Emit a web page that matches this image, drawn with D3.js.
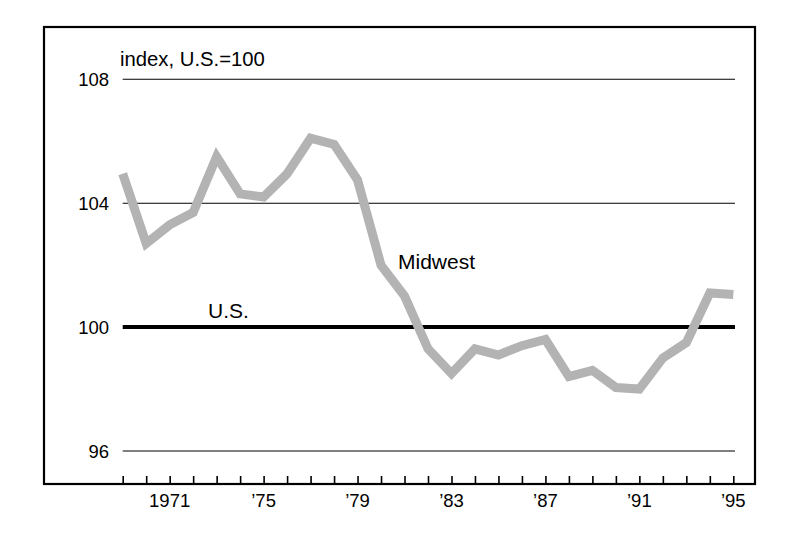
<!DOCTYPE html>
<html>
<head>
<meta charset="utf-8">
<script src="https://cdn.jsdelivr.net/npm/d3@7"></script>
<style>
	body { margin: 0; background: #fff; }
	text { font-family: "Liberation Sans", Arial, sans-serif; fill: #000; }
</style>
</head>
<body>
<div id="chart-area"></div>
<script>
// data
const years = [1969, 1970, 1971, 1972, 1973, 1974, 1975, 1976, 1977, 1978, 1979, 1980, 1981,
	1982, 1983, 1984, 1985, 1986, 1987, 1988, 1989, 1990, 1991, 1992, 1993, 1994, 1995]
const midwest = [104.95, 102.7, 103.3, 103.7, 105.5, 104.3, 104.2, 104.95, 106.1, 105.9, 104.75, 102.0, 101.0,
	99.3, 98.5, 99.3, 99.1, 99.4, 99.6, 98.4, 98.6, 98.05, 98.0, 99.0, 99.5, 101.1, 101.05]
const usLevel = 100
const yTicks = [96, 100, 104, 108]
const xLabels = [[1971, '1971'], [1975, '\u201975'], [1979, '\u201979'], [1983, '\u201983'],
	[1987, '\u201987'], [1991, '\u201991'], [1995, '\u201995']]

const W = 800
const H = 536

const frame = { left: 44, top: 27, right: 755, bottom: 484 }
const plot = { left: 122.7, right: 733.3 }

let svg = d3.select('#chart-area')
	.append('svg')
	.attr('width', W)
	.attr('height', H)

// scales
let xScale = d3.scaleLinear()
	.domain([1969, 1995])
	.range([plot.left, plot.right])

let yScale = d3.scaleLinear()
	.domain([96, 108])
	.range([451, 79.3])

// frame
svg.append('rect')
	.attr('x', frame.left)
	.attr('y', frame.top)
	.attr('width', frame.right - frame.left)
	.attr('height', frame.bottom - frame.top)
	.attr('fill', 'none')
	.attr('stroke', '#000')
	.attr('stroke-width', 2.2)

// horizontal gridlines
svg.append('g')
	.selectAll('line')
	.data(yTicks.filter(d => d !== usLevel))
	.enter()
	.append('line')
	.attr('x1', plot.left)
	.attr('x2', 735)
	.attr('y1', d => yScale(d))
	.attr('y2', d => yScale(d))
	.attr('stroke', '#000')
	.attr('stroke-width', 1.1)

// y tick labels
svg.append('g')
	.selectAll('text')
	.data(yTicks)
	.enter()
	.append('text')
	.attr('x', 109)
	.attr('y', d => yScale(d))
	.attr('dy', '0.36em')
	.attr('text-anchor', 'end')
	.style('font-size', '18.5px')
	.text(d => d)

// x axis ticks, one per year
let xAxis = d3.axisTop(xScale)
	.tickValues(years)
	.tickSize(8)
	.tickFormat('')

svg.append('g')
	.attr('class', 'x-axis')
	.attr('transform', 'translate(0,' + frame.bottom + ')')
	.call(xAxis)
	.call(g => g.select('.domain').remove())
	.call(g => g.selectAll('.tick line').attr('stroke', '#000').attr('stroke-width', 1.6))

svg.append('g')
	.selectAll('text')
	.data(xLabels)
	.enter()
	.append('text')
	.attr('x', d => xScale(d[0]))
	.attr('y', 507)
	.attr('text-anchor', 'middle')
	.style('font-size', '18.5px')
	.text(d => d[1])

// U.S. line
svg.append('line')
	.attr('x1', plot.left)
	.attr('x2', 735)
	.attr('y1', yScale(usLevel))
	.attr('y2', yScale(usLevel))
	.attr('stroke', '#000')
	.attr('stroke-width', 4)

// Midwest line
let line = d3.line()
	.x((d, i) => xScale(years[i]))
	.y(d => yScale(d))

svg.append('path')
	.datum(midwest)
	.attr('d', line)
	.attr('fill', 'none')
	.attr('stroke', '#b3b3b3')
	.attr('stroke-width', 9)
	.attr('stroke-linejoin', 'miter')

// labels
svg.append('text')
	.attr('x', 120)
	.attr('y', 66)
	.style('font-size', '20.3px')
	.text('index, U.S.=100')

svg.append('text')
	.attr('x', 398)
	.attr('y', 269)
	.style('font-size', '21px')
	.text('Midwest')

svg.append('text')
	.attr('x', 208)
	.attr('y', 318)
	.style('font-size', '21px')
	.text('U.S.')
</script>
</body>
</html>
